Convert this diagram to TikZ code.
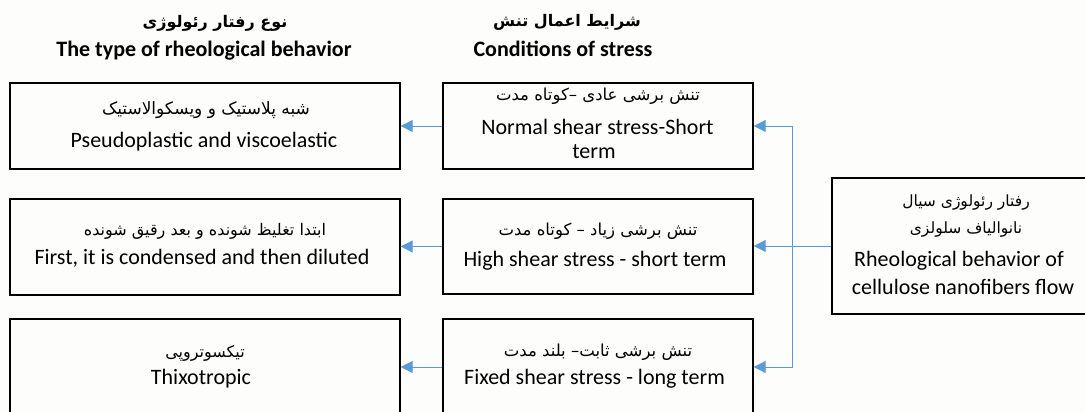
\documentclass[tikz,border=0pt]{standalone}
\usepackage{fontspec}
\setmainfont{Carlito}
\newfontfamily\fafont[Script=Arabic]{DejaVu Sans}
\TeXXeTstate=1
\usetikzlibrary{arrows.meta}
\definecolor{connblue}{RGB}{91,155,213}
\definecolor{bgcol}{RGB}{253,253,251}
\begin{document}
\begin{tikzpicture}[x=1pt,y=-1pt,
  box/.style={draw=black,line width=1.4pt,inner sep=0pt},
  entext/.style={anchor=base,inner sep=0pt,font=\fontsize{22}{26}\selectfont},
  enhead/.style={anchor=base,inner sep=0pt,font=\fontsize{22}{26}\selectfont\bfseries},
  fatext/.style={anchor=base,inner sep=0pt,font=\fontsize{#1}{18}\selectfont\fafont},
  fatext/.default=16.5,
  fahead/.style={anchor=base,inner sep=0pt,font=\fontsize{16}{18}\selectfont\fafont\bfseries},
  connline/.style={draw=connblue,line width=1pt},
  arr/.style={connline,-{Triangle[length=12pt,width=12pt]}}]
\fill[bgcol] (0,0) rectangle (1085,412);
\useasboundingbox (0,0) rectangle (1085,412);

% headers
\node[fahead] (h1fa) at (215,28) {\beginR نوع رفتار رئولوژی\endR};
\node[enhead] (h1en) at (204,57) {The type of rheological behavior};
\node[fahead] (h2fa) at (567,27) {\beginR شرایط اعمال تنش\endR};
\node[enhead] (h2en) at (563,57) {Conditions of stress};

% boxes
\node[box,minimum width=390pt,minimum height=86pt] (L1) at (205,126) {};
\node[box,minimum width=390pt,minimum height=96pt] (L2) at (205,247) {};
\node[box,minimum width=390pt,minimum height=96pt] (L3) at (205,367) {};
\node[box,minimum width=310pt,minimum height=86pt] (M1) at (598,126) {};
\node[box,minimum width=310pt,minimum height=95pt] (M2) at (598,246.5) {};
\node[box,minimum width=310pt,minimum height=96pt] (M3) at (598,367) {};
\node[box,minimum width=270pt,minimum height=136pt] (R) at (967,246) {};

% texts left
\node[fatext=17] (L1fa) at (206,114) {\beginR شبه پلاستیک و ویسکوالاستیک\endR};
\node[entext] (L1en) at (204,147) {Pseudoplastic and viscoelastic};
\node[fatext=16] (L2fa) at (205,235) {\beginR ابتدا تغلیظ شونده و بعد رقیق شونده\endR};
\node[entext] (L2en) at (202,264) {First, it is condensed and then diluted};
\node[fatext=16] (L3fa) at (205,357) {\beginR تیکسوتروپی\endR};
\node[entext] (L3en) at (201,384) {Thixotropic};

% texts middle
\node[fatext] (M1fa) at (598,100) {\beginR تنش برشی عادی –کوتاه مدت\endR};
\node[entext] (M1en) at (597.5,134) {Normal shear stress-Short};
\node[entext] (M1en2) at (594,158) {term};
\node[fatext] (M2fa) at (598,235) {\beginR تنش برشی زیاد – کوتاه مدت\endR};
\node[entext] (M2en) at (595,266) {High shear stress - short term};
\node[fatext] (M3fa) at (598,356) {\beginR تنش برشی ثابت– بلند مدت\endR};
\node[entext] (M3en) at (594.5,384) {Fixed shear stress - long term};

% texts right
\node[fatext=15.5] (Rfa1) at (966,206) {\beginR رفتار رئولوژی سیال\endR};
\node[fatext=15.5] (Rfa2) at (966,233) {\beginR نانوالیاف سلولزی\endR};
\node[entext] (Ren1) at (959,266) {Rheological behavior of};
\node[entext] (Ren2) at (963,294) {cellulose nanofibers flow};

% connectors
\coordinate (J) at (792,246);
\draw[connline] (R.west) -- (J);
\draw[arr] (J) |- (M1.east);
\draw[arr] (J) |- (M3.east);
\draw[arr] (J) -- (J -| M2.east);
\draw[arr] (M1.west) -- (M1.west -| L1.east);
\draw[arr] (M2.west) -- (M2.west -| L2.east);
\draw[arr] (M3.west) -- (M3.west -| L3.east);
\end{tikzpicture}
\end{document}
